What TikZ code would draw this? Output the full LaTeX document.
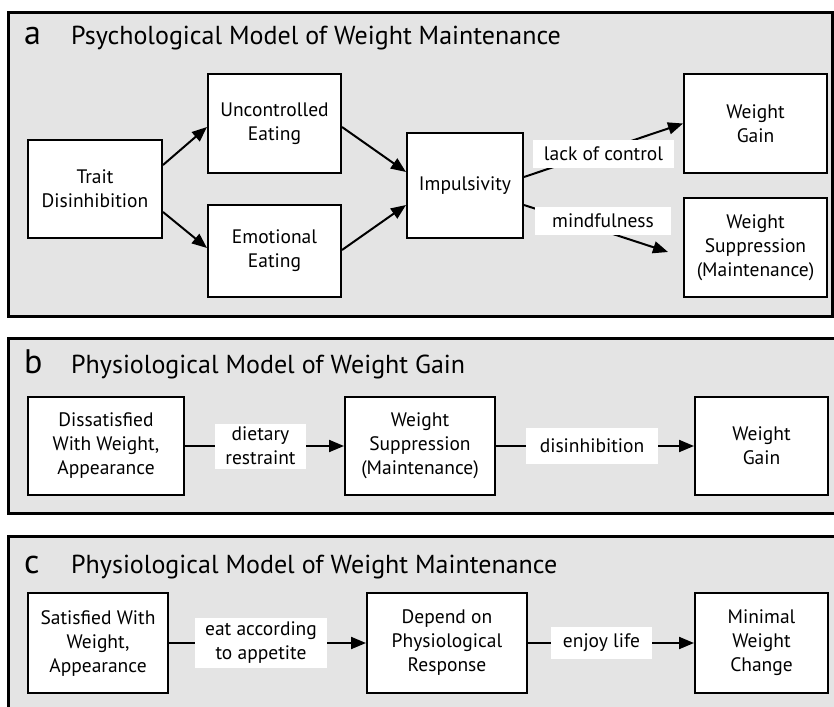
\documentclass[tikz,border=0pt]{standalone}
\usepackage{fontspec}
\setmainfont{PT Sans}
\usetikzlibrary{arrows.meta,calc}
\pgfdeclarelayer{panel}
\pgfdeclarelayer{edges}
\pgfsetlayers{panel,edges,main}
\definecolor{panelgray}{RGB}{228,228,228}
\tikzset{
  box/.style={draw=black, line width=2pt, fill=white, align=center, inner sep=0pt,
    font=\fontsize{19.5}{24}\selectfont},
  tag/.style={fill=white, inner sep=0pt, align=center,
    font=\fontsize{19.5}{24}\selectfont},
  conn/.style={line width=2pt, -{Triangle[length=15pt,width=12pt]}},
  plainline/.style={line width=2pt},
  panelbox/.style={draw=black, line width=3pt, fill=panelgray},
  paneltitle/.style={anchor=base west, inner sep=0pt, font=\fontsize{26}{30}\selectfont},
  panelletter/.style={anchor=base west, inner sep=0pt, font=\fontsize{34}{34}\selectfont},
}
\begin{document}
\begin{tikzpicture}[x=1pt,y=-1pt]
\useasboundingbox (0,0) rectangle (834,706);

\begin{pgfonlayer}{panel}
  \draw[panelbox] (8,13) rectangle (832.5,316);
  \draw[panelbox] (8,338) rectangle (837,513);
  \draw[panelbox] (8,536) rectangle (837,715);
\end{pgfonlayer}

% panel a
\node[panelletter] (la) at (24,45) {a};
\node[paneltitle] (ta) at (71,45) {Psychological Model of Weight Maintenance};
\node[box, minimum width=134pt, minimum height=98pt] (trait) at (95,189) {Trait\\Disinhibition};
\node[box, minimum width=133pt, minimum height=99pt] (unc) at (274.5,123.5) {Uncontrolled\\Eating};
\node[box, minimum width=133pt, minimum height=92pt] (emo) at (274.5,251) {Emotional\\Eating};
\node[box, minimum width=116pt, minimum height=105pt] (imp) at (465,185.5) {Impulsivity};
\node[box, minimum width=143pt, minimum height=99pt] (wg) at (755.5,123.5) {Weight\\Gain};
\node[box, minimum width=143pt, minimum height=99pt] (ws) at (755.5,247.5) {Weight\\Suppression\\(Maintenance)};
\coordinate (msend) at (668,252);

\begin{pgfonlayer}{edges}
  \draw[conn] ($(trait.east)+(0,-24)$) -- ($(unc.west)+(0,3.5)$);
  \draw[conn] ($(trait.east)+(0,23)$) -- ($(emo.west)+(0,-3)$);
  \draw[conn] ($(unc.east)+(0,3.5)$) -- ($(imp.west)+(0,-13.5)$);
  \draw[conn] ($(emo.east)+(0,-1)$) -- ($(imp.west)+(0,19.5)$);
  \draw[conn] ($(imp.east)+(0,-8.5)$) -- (wg.west);
  \draw[conn] ($(imp.east)+(0,19.5)$) -- (msend);
\end{pgfonlayer}
\node[tag, minimum width=141pt, minimum height=28pt] (lack) at (603.5,154) {lack of control};
\node[tag, minimum width=136pt, minimum height=28pt] (mind) at (603,221) {mindfulness};

% panel b
\node[panelletter] (lb) at (24,373) {b};
\node[paneltitle] (tb) at (71,373) {Physiological Model of Weight Gain};
\node[box, minimum width=156pt, minimum height=98pt] (dis) at (106,446) {Dissatisfied\\With Weight,\\Appearance};
\node[box, minimum width=150pt, minimum height=98pt] (wsb) at (420,446) {Weight\\Suppression\\(Maintenance)};
\node[box, minimum width=133pt, minimum height=98pt] (wgb) at (761.5,446) {Weight\\Gain};
\node[tag, minimum width=91pt, minimum height=45pt] (diet) at (260.5,446) {dietary\\restraint};
\node[tag, minimum width=132pt, minimum height=36pt] (disinh) at (592,446) {disinhibition};
\begin{pgfonlayer}{edges}
  \draw[plainline] (dis.east) -- (diet.west);
  \draw[conn] (diet.east) -- (wsb.west);
  \draw[plainline] (wsb.east) -- (disinh.west);
  \draw[conn] (disinh.east) -- (wgb.west);
\end{pgfonlayer}

% panel c
\node[panelletter] (lc) at (24,573) {c};
\node[paneltitle] (tc) at (71,573) {Physiological Model of Weight Maintenance};
\node[box, minimum width=140pt, minimum height=100pt] (sat) at (98,643) {Satisfied With\\Weight,\\Appearance};
\node[box, minimum width=160pt, minimum height=100pt] (dep) at (447,643) {Depend on\\Physiological\\Response};
\node[box, minimum width=133pt, minimum height=100pt] (minw) at (761.5,643) {Minimal\\Weight\\Change};
\node[tag, minimum width=132pt, minimum height=50pt] (eat) at (261,643) {eat according\\to appetite};
\node[tag, minimum width=101pt, minimum height=32pt] (enjoy) at (601.5,643) {enjoy life};
\begin{pgfonlayer}{edges}
  \draw[plainline] (sat.east) -- (eat.west);
  \draw[conn] (eat.east) -- (dep.west);
  \draw[plainline] (dep.east) -- (enjoy.west);
  \draw[conn] (enjoy.east) -- (minw.west);
\end{pgfonlayer}
\end{tikzpicture}
\end{document}
